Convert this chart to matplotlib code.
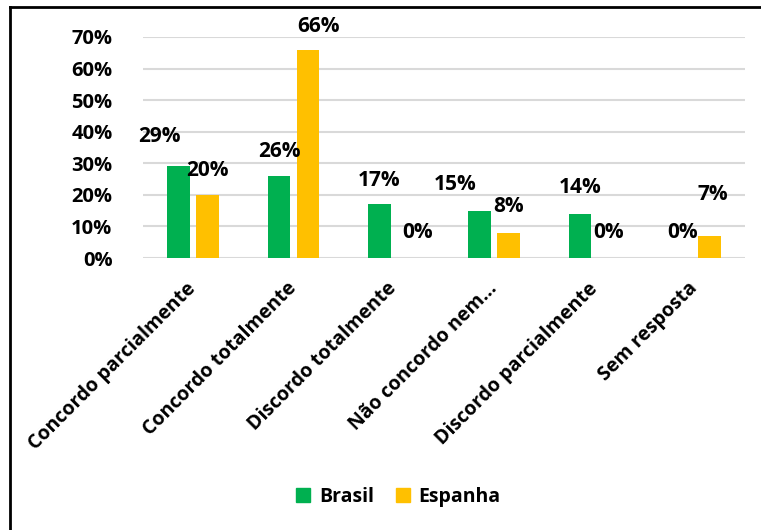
import numpy as np
import matplotlib
matplotlib.use("Agg")
import matplotlib.pyplot as plt
from matplotlib.lines import Line2D

plt.rcParams['font.family'] = ['Open Sans', 'DejaVu Sans']
plt.rcParams['font.weight'] = 'bold'

categories = ["Concordo parcialmente", "Concordo totalmente", "Discordo totalmente",
              "Não concordo nem...", "Discordo parcialmente", "Sem resposta"]
brasil = [29, 26, 17, 15, 14, 0]
espanha = [20, 66, 0, 8, 0, 7]
yticks = [0, 10, 20, 30, 40, 50, 60, 70]

# label offsets (pixels, from bar top centre) as placed in the original
off_br = [(-19, 30), (0, 24), (0, 24), (-24, 26), (0, 26), (2, 25)]
off_es = [(0, 24), (10, 23), (9, 25), (0, 26), (0, 25), (3, 41)]

GREEN = "#00B050"
YELLOW = "#FFC000"

fig = plt.figure(figsize=(7.61, 5.30), dpi=100)
ax = fig.add_axes([143/761, 1-258/530, (745-143)/761, (258-37)/530])

x = np.arange(len(categories))
w = 0.225
d = 0.145
ax.bar(x - d, np.array(brasil) / 100, w, color=GREEN, label="Brasil", zorder=3)
ax.bar(x + d, np.array(espanha) / 100, w, color=YELLOW, label="Espanha", zorder=3)

px = 72 / 100
for i in range(len(categories)):
    ax.annotate(f"{brasil[i]}%", (x[i] - d, brasil[i] / 100),
                xytext=(off_br[i][0] * px, off_br[i][1] * px), textcoords="offset points",
                ha="center", va="center", fontsize=15, fontweight="bold")
    ax.annotate(f"{espanha[i]}%", (x[i] + d, espanha[i] / 100),
                xytext=(off_es[i][0] * px, off_es[i][1] * px), textcoords="offset points",
                ha="center", va="center", fontsize=15, fontweight="bold")

ax.set_xlim(-0.5, len(categories) - 0.5)
ax.set_ylim(0, 0.7)
ax.set_yticks([t / 100 for t in yticks])
ax.set_yticklabels([f"{t}%" for t in yticks], fontsize=14.5, fontweight="bold")
ax.yaxis.grid(True, color="#D9D9D9", linewidth=1.5, zorder=0)
ax.set_xticks(x)
ax.set_xticklabels(categories, rotation=45, ha="right", va="center",
                   rotation_mode="anchor", fontsize=14, fontweight="bold")
ax.tick_params(axis="both", length=0)
ax.tick_params(axis="y", pad=22)
ax.tick_params(axis="x", pad=20)
for s in ax.spines.values():
    s.set_visible(False)

handles = [Line2D([], [], marker="s", linestyle="", markersize=10, color=GREEN),
           Line2D([], [], marker="s", linestyle="", markersize=10, color=YELLOW)]
fig.legend(handles, ["Brasil", "Espanha"], loc="center", bbox_to_anchor=(0.522, 0.062),
           ncol=2, frameon=False, handlelength=1.0, handletextpad=0.3, columnspacing=1.0,
           prop={"weight": "bold", "size": 14})

# chart frame (top and left edges visible in the crop)
fig.add_artist(Line2D([10/761, 10/761], [0, 1-7/530], color="black", linewidth=2,
                      transform=fig.transFigure))
fig.add_artist(Line2D([10/761, 1], [1-7/530, 1-7/530], color="black", linewidth=2,
                      transform=fig.transFigure))

fig.savefig("out.png", dpi=100)
